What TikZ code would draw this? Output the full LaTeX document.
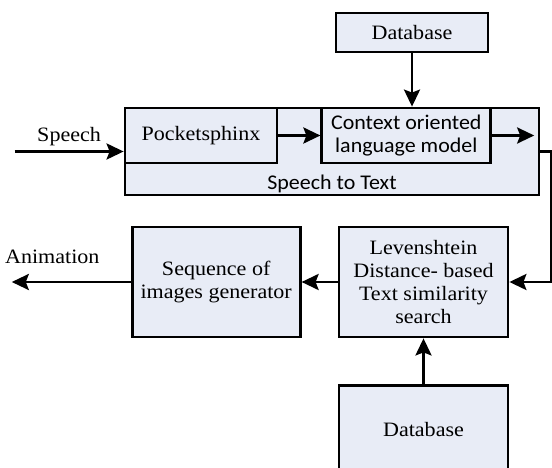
\documentclass[tikz,border=0pt]{standalone}
\usepackage{fontspec}
\setmainfont{Liberation Serif}[FakeStretch=1.08]
\newfontfamily\labelsans{Carlito}[FakeStretch=1.05]
\usetikzlibrary{arrows.meta, positioning}
\definecolor{blockfill}{RGB}{232,236,246}

\begin{document}
\begin{tikzpicture}[
      x=1bp, y=-1bp,
      block/.style={rectangle, draw, line width=2.8bp, fill=blockfill, align=center, inner sep=0pt},
      arrow/.style={-{Stealth[length=17bp, width=16bp, inset=3bp]}, line width=2.8bp},
      sanstext/.style={font=\labelsans\fontsize{21}{23}\selectfont},
      every node/.style={font=\fontsize{20.5}{23}\selectfont}
    ]
    \useasboundingbox (0,0) rectangle (552,468);

    % Speech to Text stage
    \node[block, minimum width=414bp, minimum height=87bp] (stt) at (332,151.5) {};
    \node[block, anchor=north west, minimum width=152bp, minimum height=55bp] (pocket) at (stt.north west) {Pocketsphinx};
    \node[block, sanstext, minimum width=169bp, minimum height=55bp, right=42bp of pocket] (context) {Context oriented\\language model};
    \node[sanstext, above=0pt of stt.south] (sttlabel) {Speech to Text};

    % Database feeding the language model
    \node[block, minimum width=152bp, minimum height=39bp] (dbtop) at (412,32.5) {Database};

    % Search and animation
    \node[block, minimum width=169bp, minimum height=110bp] (lev) at (423.5,282) {Levenshtein\\Distance- based\\Text similarity\\search};
    \node[block, minimum width=168bp, minimum height=110bp, left=36bp of lev] (seq) {Sequence of\\images generator};
    \node[block, minimum width=169bp, minimum height=87bp, below=46bp of lev] (dbbot) {Database};

    % Arrows
    \coordinate[left=109bp of stt.west] (speechin);
    \coordinate[right=42bp of context.east] (ctxout);
    \coordinate[left=119bp of seq.west] (animout);

    \draw[arrow] (speechin) -- node[above=1bp] {Speech} (stt.west);
    \draw[arrow] (pocket) -- (context);
    \draw[arrow] (context) -- (ctxout);
    \draw[arrow] (dbtop) -- (dbtop |- stt.north);
    \draw[arrow] (stt.east) -- ++(11,0) |- (lev.east);
    \draw[arrow] (lev) -- (seq);
    \draw[arrow] (seq) -- node[above=14bp, pos=0.66] {Animation} (animout);
    \draw[arrow] (dbbot) -- (lev);

\end{tikzpicture}
\end{document}
